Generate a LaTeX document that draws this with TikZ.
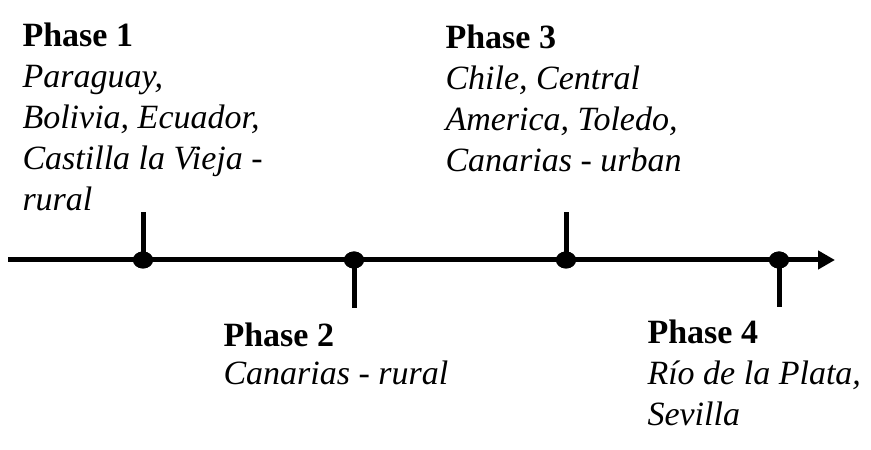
\documentclass[tikz,border=0pt]{standalone}
\usepackage{fontspec}
\setmainfont{Liberation Serif}
\usetikzlibrary{arrows.meta,shapes.geometric}
\tikzset{
  phasetext/.style={anchor=base west,inner sep=0pt,align=left,
    font=\fontsize{34bp}{41bp}\selectfont},
  tldot/.style={ellipse,fill=black,minimum width=20bp,minimum height=17bp,inner sep=0pt},
}

\begin{document}
\begin{tikzpicture}[x=1bp,y=1bp,line width=5bp]
  \useasboundingbox (0,0) rectangle (871,450);
  % axis
  \coordinate (start) at (8,190);
  \coordinate (end) at (835,190);
  \draw[-{Triangle[length=17bp,width=18bp]}] (start) -- (end);
  % ticks and dots
  \foreach \i/\x/\dy in {1/143/48,2/354/-48,3/566/48,4/779/-47}{
    \coordinate (t\i) at (\x,190+\dy);
    \node[tldot] (d\i) at (\x,190) {};
    \draw (d\i.center) -- (t\i);
    \node[tldot] at (d\i) {};
  }
  % labels (anchored at the base of the last line)
  \node[phasetext] (p1) at (20,239) {\textbf{Phase 1}\\\textit{Paraguay,}\\\textit{Bolivia, Ecuador,}\\\textit{Castilla la Vieja -}\\\textit{rural}};
  \node[phasetext] (p2) at (221,65) {\textbf{Phase 2}\\[-3bp]\textit{Canarias - rural}};
  \node[phasetext] (p3) at (443,278) {\textbf{Phase 3}\\\textit{Chile, Central}\\\textit{America, Toledo,}\\\textit{Canarias - urban}};
  \node[phasetext] (p4) at (645,24) {\textbf{Phase 4}\\\textit{Río de la Plata,}\\\textit{Sevilla}};
\end{tikzpicture}
\end{document}
